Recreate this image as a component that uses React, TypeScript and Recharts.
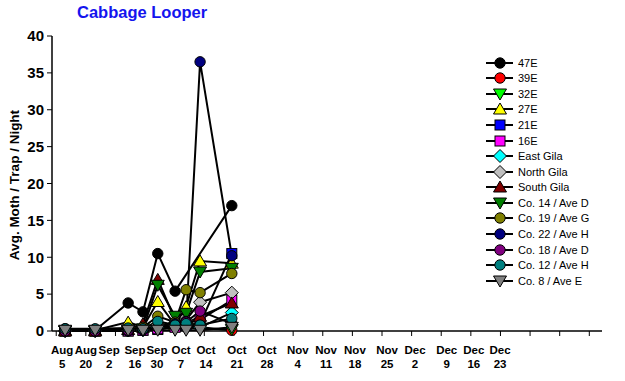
import React from 'react';
import { LineChart, Line, XAxis, YAxis } from 'recharts';

const FONT = '"Liberation Sans", Arial, sans-serif';

// sample dates placed on a day scale (0..130 days along the axis)
const sampleDays = [3.1, 10.2, 18.0, 21.5, 25.0, 29.1, 31.7, 35.0, 42.5];

// weekly tick marks
const tickDays = [1, 8, 15, 22, 29, 36, 43, 50, 57, 64, 71, 78, 85, 92, 99, 106, 113, 120, 127];

// date labels under the axis
const labelDays = [2.4, 8.0, 13.5, 19.6, 24.8, 30.5, 36.4, 43.7, 50.8, 58.1, 64.8, 71.6, 79.2, 85.8, 93.3, 99.7, 105.9];
const labelMonths = ['Aug', 'Aug', 'Sep', 'Sep', 'Sep', 'Oct', 'Oct', 'Oct', 'Oct', 'Nov', 'Nov', 'Nov', 'Nov', 'Dec', 'Dec', 'Dec', 'Dec'];
const labelDates = ['5', '20', '2', '16', '30', '7', '14', '21', '28', '4', '11', '18', '25', '2', '9', '16', '23'];

const yTicks = [0, 5, 10, 15, 20, 25, 30, 35, 40];

const names = ['47E', '39E', '32E', '27E', '21E', '16E', 'East Gila', 'North Gila', 'South Gila',
  'Co. 14 / Ave D', 'Co. 19 / Ave G', 'Co. 22 / Ave H', 'Co. 18 / Ave D', 'Co. 12 / Ave H', 'Co. 8 / Ave E'];

const v47E = [0.3, 0.1, 3.8, 2.6, 10.5, 5.4, null, null, 17];
const v39E = [0, 0, 0.1, 0.2, 0.5, 1.2, 0.8, 0.5, 0.1];
const v32E = [0, 0, 0, 0.1, 0.3, 0.5, 0.5, 0.3, 0.2];
const v27E = [0.1, 0.1, 1.2, 0.5, 4.0, 0.8, 3.3, 9.5, 9.2];
const v21E = [0, 0, 0, 0.1, 0.2, 0.6, 0.8, 1.0, 10.5];
const v16E = [0, 0, 0, 0.1, 0.3, 0.5, 1.0, 1.5, 4.2];
const vEastGila = [0, 0, 0.1, 0.1, 0.5, 0.8, 0.8, 0.5, 2.5];
const vNorthGila = [0, 0, 0.1, 0.2, 0.8, 0.8, 1.5, 3.9, 5.2];
const vSouthGila = [0, 0, 0.2, 1.0, 7.0, 1.5, 1.0, 2.0, 3.8];
const vCo14 = [0, 0, 0.1, 0.3, 6.2, 2.0, 2.4, 8.0, 8.5];
const vCo19 = [0, 0, 0.2, 0.5, 2.0, 1.2, 5.6, 5.2, 7.8];
const vCo22 = [0, 0, 0, 0.1, 0.5, 1.0, 1.3, 36.5, 10.2];
const vCo18 = [0, 0, 0.1, 0.2, 0.5, 0.8, 1.2, 2.7, 1.0];
const vCo12 = [0.3, 0.3, 0.4, 0.3, 1.3, 0.8, 1.0, 0.8, 1.7];
const vCo8 = [0.1, 0.1, 0.1, 0.1, 0.1, 0.1, 0.1, 0.1, 0.5];

const allValues = [v47E, v39E, v32E, v27E, v21E, v16E, vEastGila, vNorthGila, vSouthGila,
  vCo14, vCo19, vCo22, vCo18, vCo12, vCo8];

type Shape = 'circle' | 'up' | 'down' | 'square' | 'diamond';
const shapes: Shape[] = ['circle', 'circle', 'down', 'up', 'square', 'square', 'diamond', 'diamond', 'up',
  'down', 'circle', 'circle', 'circle', 'circle', 'down'];
const colors = ['#000000', '#ff0000', '#00ff00', '#ffff00', '#0000ff', '#ff00ff', '#00ffff', '#c0c0c0', '#800000',
  '#008000', '#808000', '#000080', '#800080', '#008080', '#808080'];

const data = sampleDays.map((d, i) => {
  const row: Record<string, number | null> = { day: d };
  allValues.forEach((arr, k) => { row['s' + k] = arr[i]; });
  return row;
});

function MarkerShape({ shape, cx, cy, fill }: { shape: Shape; cx: number; cy: number; fill: string }) {
  const sw = 1;
  switch (shape) {
    case 'circle':
      return <circle cx={cx} cy={cy} r={5.2} fill={fill} stroke="#000" strokeWidth={sw} />;
    case 'square':
      return <rect x={cx - 5} y={cy - 5} width={10} height={10} fill={fill} stroke="#000" strokeWidth={sw} />;
    case 'up':
      return <polygon points={`${cx},${cy - 6} ${cx + 6.5},${cy + 5} ${cx - 6.5},${cy + 5}`} fill={fill} stroke="#000" strokeWidth={sw} />;
    case 'down':
      return <polygon points={`${cx},${cy + 6} ${cx + 6.5},${cy - 5} ${cx - 6.5},${cy - 5}`} fill={fill} stroke="#000" strokeWidth={sw} />;
    case 'diamond':
      return <polygon points={`${cx},${cy - 6.5} ${cx + 6.5},${cy} ${cx},${cy + 6.5} ${cx - 6.5},${cy}`} fill={fill} stroke="#000" strokeWidth={sw} />;
  }
  return null;
}

const makeDot = (k: number) => (props: any) => {
  const { cx, cy, index, value } = props;
  if (cx == null || cy == null || value == null || isNaN(cy)) return <g key={`d${k}-${index}`} />;
  return (
    <g key={`d${k}-${index}`}>
      <MarkerShape shape={shapes[k]} cx={cx} cy={cy} fill={colors[k]} />
    </g>
  );
};

const DateTick = (props: any) => {
  const { x, y, index } = props;
  return (
    <g>
      <text x={x} y={y} textAnchor="middle" fontFamily={FONT} fontSize={11.5} fontWeight="bold" fill="#000">
        <tspan x={x} dy={22}>{labelMonths[index]}</tspan>
        <tspan x={x} dy={14}>{labelDates[index]}</tspan>
      </text>
    </g>
  );
};

const EmptyTick = () => <g />;

const YLabel = () => (
  <text x={14} y={185} transform="rotate(-90 14 185)" textAnchor="middle" dominantBaseline="central"
    fontFamily={FONT} fontSize={13.5} fontWeight="bold" fill="#000">
    Avg. Moth / Trap / Night
  </text>
);

function LegendBox() {
  return (
    <div style={{ position: 'absolute', left: 484, top: 55, fontFamily: FONT, fontSize: 11, color: '#000' }}>
      {names.map((n, k) => (
        <div key={n} style={{ height: 15.57, display: 'flex', alignItems: 'center', whiteSpace: 'nowrap' }}>
          <svg width={34} height={16} style={{ display: 'block' }}>
            <line x1={2} y1={8} x2={29} y2={8} stroke="#000" strokeWidth={2} />
            <MarkerShape shape={shapes[k]} cx={16} cy={8} fill={colors[k]} />
          </svg>
          <span>{n}</span>
        </div>
      ))}
    </div>
  );
}

export default function App() {
  return (
    <div style={{ position: 'absolute', left: 0, top: 0, width: 625, height: 381, background: '#fff' }}>
      <div style={{ position: 'absolute', left: 77, top: 3, fontFamily: FONT, fontWeight: 'bold', fontSize: 16.5, color: '#1414ee' }}>
        Cabbage Looper
      </div>
      <LineChart width={625} height={381} data={data} margin={{ top: 36, right: 23, bottom: 0, left: 8 }}>
        <XAxis xAxisId="b_labels" dataKey="day" type="number" domain={[0, 130]} ticks={labelDays} interval={0}
          allowDataOverflow height={49} axisLine={false} tickLine={false} tickSize={0} tickMargin={0} tick={DateTick} />
        <XAxis xAxisId="a_marks" dataKey="day" type="number" domain={[0, 130]} ticks={tickDays} interval={0}
          allowDataOverflow height={1} tick={EmptyTick} tickSize={5} stroke="#000" axisLine={{ stroke: '#000', strokeWidth: 1.5 }}
          tickLine={{ stroke: '#000', strokeWidth: 1 }} />
        <YAxis type="number" domain={[0, 40]} ticks={yTicks} interval={0} width={44} tickSize={5} tickMargin={3}
          stroke="#000" axisLine={{ stroke: '#000', strokeWidth: 1.5 }}
          tick={{ fontFamily: FONT, fontSize: 15, fontWeight: 'bold', fill: '#000' }}
          label={{ content: YLabel }} />
        {names.map((n, k) => (
          <Line key={n} xAxisId="a_marks" type="linear" dataKey={'s' + k} name={n} stroke="#000" strokeWidth={2}
            dot={makeDot(k)} activeDot={false} connectNulls isAnimationActive={false} />
        ))}
      </LineChart>
      <LegendBox />
    </div>
  );
}
